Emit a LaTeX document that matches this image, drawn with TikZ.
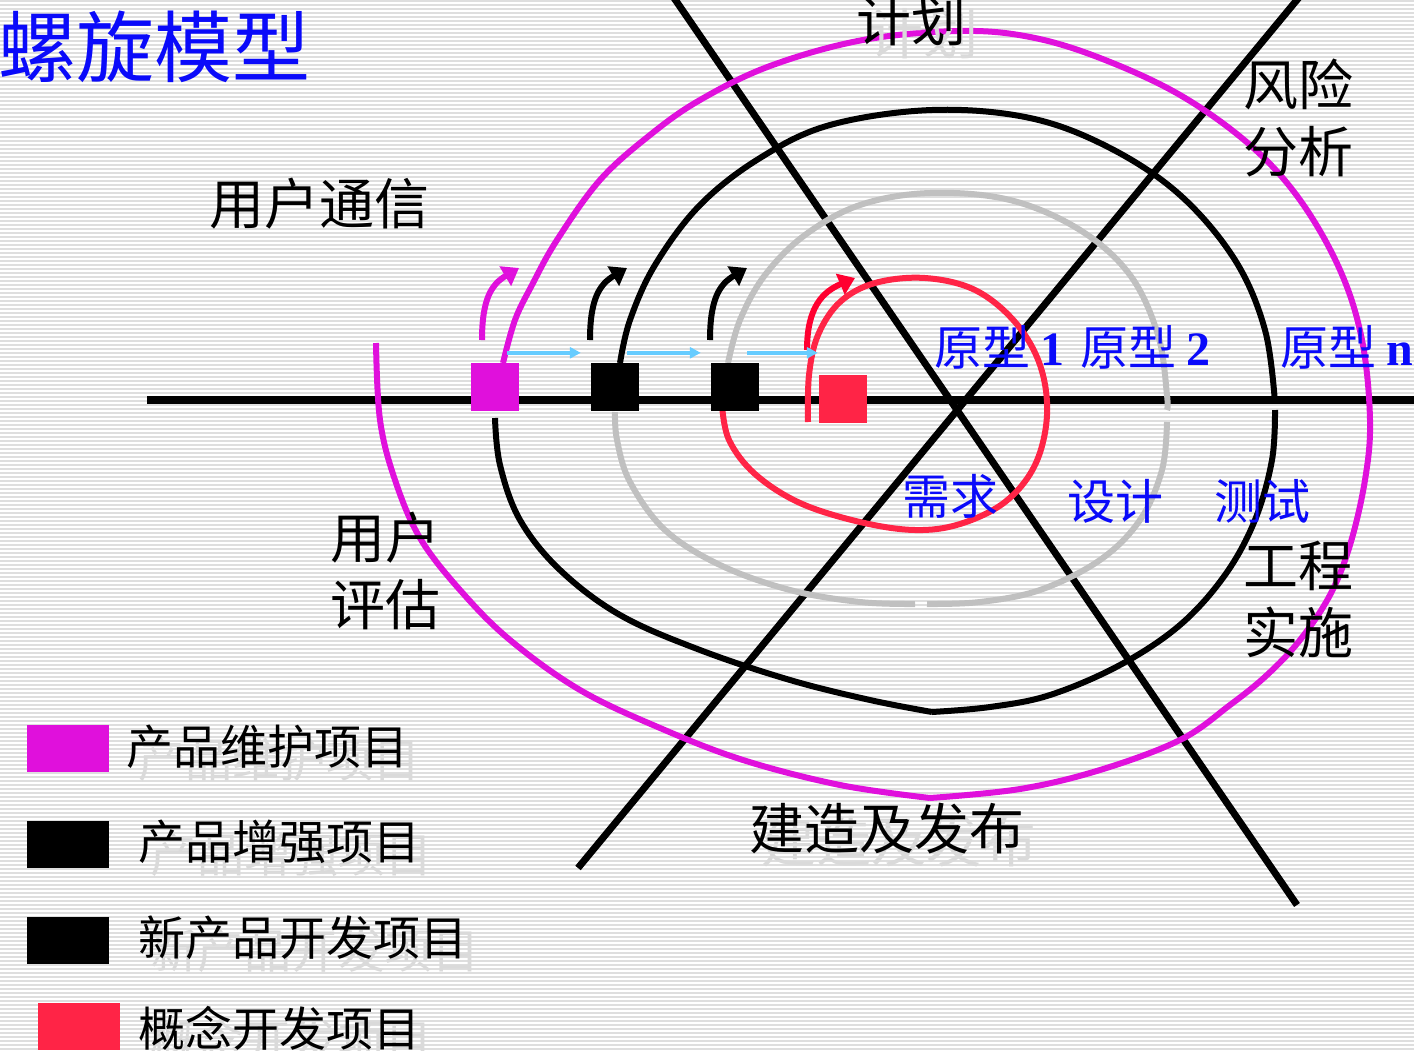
\documentclass[tikz,border=0pt]{standalone}
\usepackage{fontspec}
\usepackage{xcolor}
\usetikzlibrary{calc,arrows.meta}
\newfontfamily\cjk{Noto Sans CJK SC}
\newfontfamily\numserif{Liberation Serif}
\definecolor{stripegray}{HTML}{DEDEDE}
\definecolor{shadowgray}{HTML}{DADADA}
\definecolor{maintmag}{HTML}{E010DC}
\definecolor{conceptred}{HTML}{FF2446}
\definecolor{arrowred}{HTML}{FF0030}
\definecolor{loopgray}{HTML}{C0C0C0}
\definecolor{flowblue}{HTML}{66CCFF}
\definecolor{titleblue}{HTML}{0A0AFA}

% label with a grey drop copy behind it
\newcommand{\castlabel}[4]{%
  \node[plainlabel, #3, text=shadowgray] (#2s) at ($(#1)+(12,13)$) {#4};
  \node[plainlabel, #3] (#2) at (#1) {#4};}

\begin{document}
\begin{tikzpicture}[
		x=1pt, y=-1pt,
		line join=round,
		plainlabel/.style={inner sep=0pt, anchor=west, align=left},
		big/.style={font=\cjk\fontsize{55}{67}\selectfont},
		keyfont/.style={font=\cjk\fontsize{47}{47}\selectfont},
		phase/.style={font=\cjk\fontsize{48}{48}\selectfont, text=titleblue},
		stripe/.style={stripegray, line width=1.6pt},
		axisline/.style={line width=8pt},
		sector/.style={line width=7pt},
		loop/.style={line width=6pt, line cap=butt},
		projsq/.style={minimum size=48pt, inner sep=0pt},
		keysq/.style={minimum width=82pt, minimum height=47pt, inner sep=0pt},
		turn/.style={line width=6pt, -{Triangle[length=16pt,width=22pt]}},
		flow/.style={flowblue, line width=4pt, -{Triangle[length=11pt,width=11pt]}}
		]
		\useasboundingbox (0,0) rectangle (1414,1050);
		\fill[white] (0,0) rectangle (1414,1050);
		\foreach \s in {1,5,...,1049} {
			\draw[stripe] (0,\s) -- (1414,\s);
		}
		
		% axes
		\coordinate (O) at (957,403);
		\draw[axisline] (147,400) -- (1414,400);
		\draw[sector] (672,-5) -- (1297,905);
		\draw[sector] (1301,-5) -- (578,868);
		
		% red loop
		\draw[loop, conceptred] plot[smooth, tension=0.6] coordinates {(808,422) (809,375) (818,335) (840,302) (875,283) (925,278) (975,290) (1015,322) (1040,365) (1047,415) (1035,465) (1005,502) (960,524) (915,530) (860,522) (800,503) (755,474) (729,440) (722,405)};
		
		% grey loop
		\draw[loop, loopgray] plot[smooth, tension=0.6] coordinates {(728,363) (740,320) (765,275) (805,235) (860,205) (930,193) (1010,200) (1080,230) (1130,275) (1158,335) (1167,395) (1167,410)};
		\draw[loop, loopgray] plot[smooth, tension=0.6] coordinates {(1167,422) (1162,470) (1140,520) (1100,560) (1040,590) (980,602) (927,604)};
		\draw[loop, loopgray] plot[smooth, tension=0.6] coordinates {(915,604) (860,602) (790,590) (720,565) (665,530) (630,482) (617,440) (615,412)};
		
		% black loop
		\draw[loop] plot[smooth, tension=0.6] coordinates {(620,363) (630,320) (655,265) (700,205) (760,158) (830,125) (932,110) (1030,118) (1110,148) (1180,195) (1235,260) (1265,330) (1275,403)};
		\draw[loop] plot[smooth, tension=0.6] coordinates {(1275,410) (1272,460) (1255,520) (1225,575) (1180,625) (1120,665) (1050,695) (990,707) (932,712)};
		\draw[loop] plot[smooth, tension=0.6] coordinates {(932,712) (870,700) (790,680) (700,650) (620,615) (560,570) (520,520) (500,465) (495,418)};
		
		% magenta loop
		\draw[loop, maintmag] plot[smooth, tension=0.6] coordinates {(503,363) (515,320) (532,285) (557,240) (600,180) (650,135) (700,100) (770,66) (863,40) (960,31) (1030,37) (1100,58) (1180,95) (1250,145) (1300,200) (1340,270) (1362,340) (1370,420) (1365,480) (1350,545) (1330,595) (1300,640) (1267,675) (1230,705) (1180,740) (1100,770) (1020,789) (930,798)};
		\draw[loop, maintmag] plot[smooth, tension=0.6] coordinates {(930,798) (840,785) (743,760) (660,728) (580,690) (510,640) (460,590) (420,538) (395,480) (380,420) (376,343)};
		
		% project squares
		\node[projsq, fill=maintmag] (pmaint) at (495,387) {};
		\node[projsq, fill=black] (penh) at (615,387) {};
		\node[projsq, fill=black] (pnew) at (735,387) {};
		\node[projsq, fill=conceptred] (pconc) at (843,399) {};
		
		% turn arrows
		\draw[turn, maintmag] (482,340) .. controls (482,298) and (492,284) .. (519,268);
		\draw[turn] (590,340) .. controls (590,298) and (600,284) .. (627,268);
		\draw[turn] (710,340) .. controls (710,298) and (720,284) .. (747,268);
		\draw[turn, arrowred] (807,350) .. controls (807,308) and (822,292) .. (855,278);
		
		% hand-over arrows
		\draw[flow] ($(pmaint.north east)+(-12,-10)$) -- ($(penh.north west)+(-10,-10)$);
		\draw[flow] ($(penh.north east)+(-12,-10)$) -- ($(pnew.north west)+(-10,-10)$);
		\draw[flow] ($(pnew.north east)+(-12,-10)$) -- ($(pconc.north west)+(-1,-22)$);
		
		% quadrant labels
		\node[plainlabel, font=\cjk\fontsize{78}{78}\selectfont, text=titleblue] (title) at (-2,47) {螺旋模型};
		\castlabel{856,21}{plan}{big}{计划}
		\node[plainlabel, big] (risk) at (1243,118) {风险\\分析};
		\node[plainlabel, big] (comm) at (209,204) {用户通信};
		\node[plainlabel, big] (eval) at (330,571) {用户\\评估};
		\node[plainlabel, big] (eng) at (1243,599) {工程\\实施};
		\castlabel{749,829}{build}{big}{建造及发布}
		
		% phase labels
		\node[plainlabel, phase] (proto1) at (934,347) {原型 {\numserif\bfseries 1}};
		\node[plainlabel, phase] (proto2) at (1080,347) {原型 {\numserif\bfseries 2}};
		\node[plainlabel, phase] (proton) at (1280,347) {原型 {\numserif\bfseries n}};
		\node[plainlabel, phase] (req) at (902,496) {需求};
		\node[plainlabel, phase] (design) at (1067,501) {设计};
		\node[plainlabel, phase] (test) at (1214,501) {测试};
		
		% key
		\node[keysq, fill=maintmag] (kmaint) at (68,748) {};
		\node[keysq, fill=black] (kenh) at (68,844) {};
		\node[keysq, fill=black] (knew) at (68,940) {};
		\node[keysq, fill=conceptred] (kconc) at (79,1026) {};
		\castlabel{126,747}{tmaint}{keyfont}{产品维护项目}
		\castlabel{138,842}{tenh}{keyfont}{产品增强项目}
		\castlabel{138,938}{tnew}{keyfont}{新产品开发项目}
		\castlabel{138,1028}{tconc}{keyfont}{概念开发项目}
		
	\end{tikzpicture}
\end{document}
